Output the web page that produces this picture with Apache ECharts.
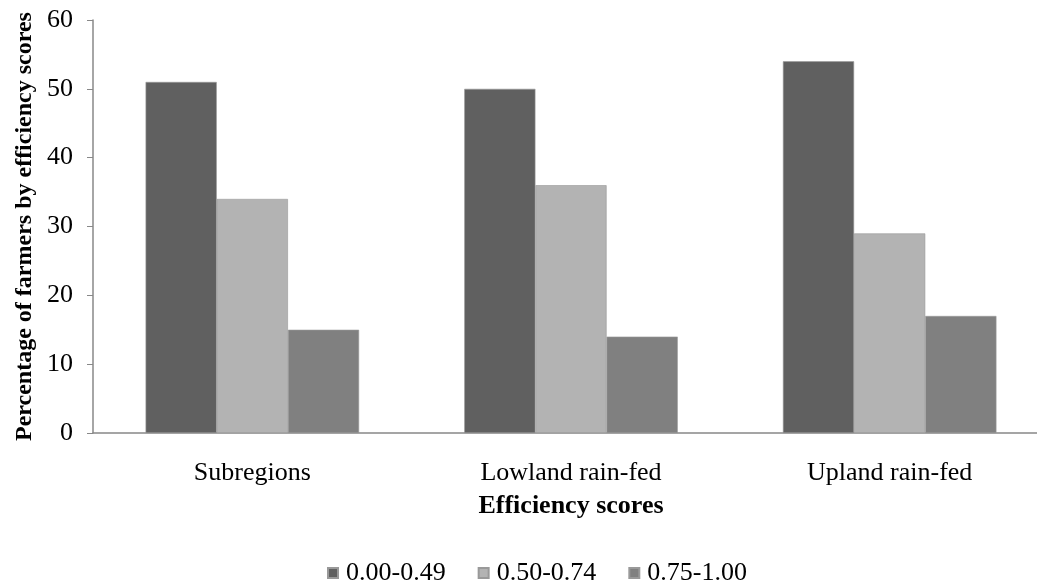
<!DOCTYPE html>
<html><head><meta charset="utf-8">
<script src="https://cdn.jsdelivr.net/npm/echarts@6/dist/echarts.min.js"></script>
<style>html,body{margin:0;padding:0;background:#fff}#c{width:1037px;height:586px}</style>
</head><body><div id="c"></div>
<script>
var categories = ['Subregions', 'Lowland rain-fed', 'Upland rain-fed'];
var seriesNames = ['0.00-0.49', '0.50-0.74', '0.75-1.00'];
var low = [51, 50, 54];
var mid = [34, 36, 29];
var high = [15, 14, 17];
var yTicks = [0, 10, 20, 30, 40, 50, 60];
var colors = ['#606060', '#b3b3b3', '#808080'];
var font = '"Liberation Serif", "Times New Roman", serif';
var chart = echarts.init(document.getElementById('c'));
var vals = [low, mid, high];
chart.setOption({
  animation: false,
  textStyle: {fontFamily: font},
  legend: {
    bottom: -5, left: 322, itemWidth: 10, itemHeight: 10, itemGap: 32, icon: 'rect',
    textStyle: {fontFamily: font, fontSize: 26, color: '#000', padding: [0, 0, 0, 3]},
    data: seriesNames
  },
  grid: {left: 93, right: -12, top: 20, bottom: 153, containLabel: false, outerBoundsMode: 'none'},
  xAxis: {
    type: 'category', data: categories,
    name: 'Efficiency scores', nameLocation: 'middle', nameGap: 60,
    nameTextStyle: {fontFamily: font, fontSize: 26, fontWeight: 'bold', color: '#000'},
    axisLine: {lineStyle: {color: '#888', width: 1.5}},
    axisTick: {show: false},
    axisLabel: {fontFamily: font, fontSize: 26, color: '#000', margin: 27}
  },
  yAxis: [{
    type: 'value', min: 0, max: 60, interval: 10,
    axisLine: {show: true, lineStyle: {color: '#888', width: 1.5}},
    axisTick: {show: true, inside: false, length: 6, lineStyle: {color: '#888'}},
    splitLine: {show: false},
    axisLabel: {fontFamily: font, fontSize: 26, color: '#000', margin: 20,
      formatter: function(v){ return yTicks.indexOf(v) >= 0 ? String(v) : ''; }}
  }, {
    type: 'value', min: 0, max: 60, interval: 10, position: 'left', offset: 0,
    name: 'Percentage of farmers by efficiency scores', nameLocation: 'middle', nameGap: 56,
    nameTextStyle: {fontFamily: font, fontSize: 24, fontWeight: 'bold', color: '#000'},
    axisLine: {show: false}, axisTick: {show: false}, axisLabel: {show: false}, splitLine: {show: false}
  }],
  series: seriesNames.map(function(n, i){
    return {
      name: n, type: 'bar', data: vals[i], barGap: '0%', barCategoryGap: '33%',
      itemStyle: {color: colors[i], borderColor: '#999', borderWidth: 0.6}
    };
  })
});
</script></body></html>
